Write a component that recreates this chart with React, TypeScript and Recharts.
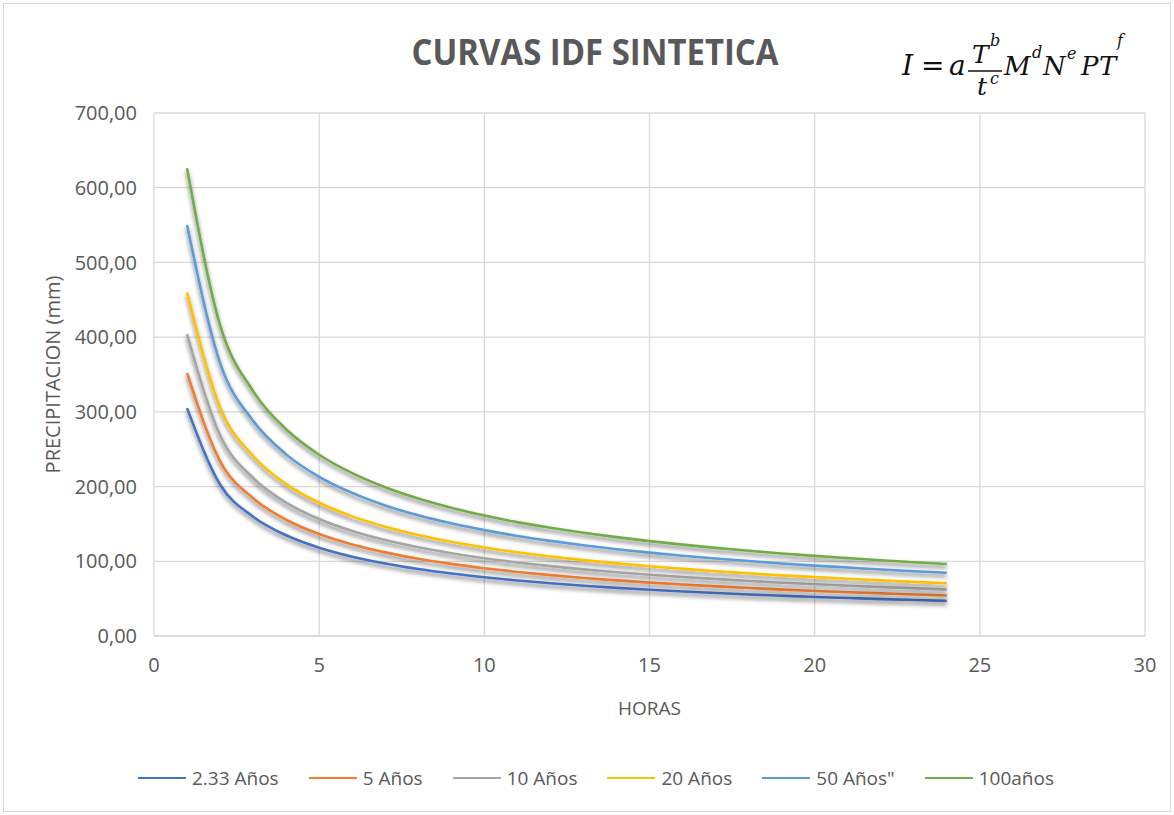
import React from 'react';
import { LineChart, Line, XAxis, YAxis, CartesianGrid, Label } from 'recharts';

const horas = [1, 2, 3, 4, 5, 6, 7, 8, 9, 10, 11, 12, 13, 14, 15, 16, 17, 18, 19, 20, 21, 22, 23, 24];

const anios233 = [305, 202.8, 159.7, 134.8, 118.2, 106.2, 97.0, 89.6, 83.6, 78.6, 74.3, 70.6, 67.3, 64.4, 61.9, 59.6, 57.5, 55.6, 53.8, 52.2, 50.8, 49.4, 48.1, 46.9];
const anios5 = [352, 234.0, 184.3, 155.6, 136.4, 122.5, 111.9, 103.4, 96.5, 90.7, 85.7, 81.5, 77.7, 74.4, 71.4, 68.8, 66.4, 64.2, 62.1, 60.3, 58.6, 57.0, 55.5, 54.1];
const anios10 = [404, 268.6, 211.5, 178.6, 156.6, 140.6, 128.4, 118.7, 110.8, 104.1, 98.4, 93.5, 89.2, 85.4, 82.0, 78.9, 76.2, 73.6, 71.3, 69.2, 67.3, 65.4, 63.7, 62.1];
const anios20 = [460, 305.8, 240.9, 203.3, 178.3, 160.1, 146.2, 135.1, 126.1, 118.5, 112.0, 106.4, 101.6, 97.2, 93.3, 89.9, 86.7, 83.9, 81.2, 78.8, 76.6, 74.5, 72.5, 70.7];
const anios50 = [550, 365.6, 288.0, 243.1, 213.1, 191.5, 174.8, 161.6, 150.8, 141.7, 133.9, 127.3, 121.4, 116.2, 111.6, 107.5, 103.7, 100.3, 97.1, 94.2, 91.6, 89.0, 86.7, 84.6];
const anios100 = [626, 416.2, 327.8, 276.7, 242.6, 217.9, 199.0, 183.9, 171.6, 161.3, 152.4, 144.9, 138.2, 132.3, 127.0, 122.3, 118.0, 114.1, 110.5, 107.2, 104.2, 101.3, 98.7, 96.3];

const seriesNames = ['2.33 Años', '5 Años', '10 Años', '20 Años', '50 Años"', '100años'];
const seriesColors = ['#4472C4', '#ED7D31', '#A5A5A5', '#FFC000', '#5B9BD5', '#70AD47'];
const seriesValues = [anios233, anios5, anios10, anios20, anios50, anios100];

const xTicks = [0, 5, 10, 15, 20, 25, 30];
const yTicks = [0, 100, 200, 300, 400, 500, 600, 700];

const data = horas.map((h, i) => {
  const row: Record<string, number> = { h };
  seriesValues.forEach((s, k) => {
    row['s' + k] = s[i];
  });
  return row;
});

const font = '"Open Sans", sans-serif';
const gray = '#595959';

const fmt = (v: number) => v.toFixed(2).replace('.', ',');

export default function App() {
  return (
    <div style={{ position: 'absolute', left: 0, top: 0, width: 1174, height: 815, background: '#fff', fontFamily: font }}>
      <div style={{ position: 'absolute', left: 3, top: 3, width: 1166, height: 807, border: '1px solid #d9d9d9' }} />

      <LineChart
        width={1174}
        height={815}
        data={data}
        margin={{ top: 113, right: 29, bottom: 0, left: 0 }}
        style={{ position: 'absolute', left: 0, top: 0 }}
      >
        <defs>
          <filter id="lineShadow" x="-5%" y="-10%" width="110%" height="130%">
            <feDropShadow dx="0" dy="3" stdDeviation="2" floodColor="#000" floodOpacity="0.55" />
          </filter>
        </defs>
        <CartesianGrid stroke="#d9d9d9" strokeWidth={1.3} />
        <XAxis
          dataKey="h"
          type="number"
          domain={[0, 30]}
          ticks={xTicks}
          height={179}
          tickSize={0}
          tickMargin={22}
          axisLine={{ stroke: '#d9d9d9', strokeWidth: 1.3 }}
          tickLine={false}
          tick={{ fill: gray, fontSize: 20, fontFamily: font }}
        >
          <Label
            content={({ viewBox }: any) => (
              <text
                x={viewBox.x + viewBox.width / 2}
                y={708}
                textAnchor="middle"
                dominantBaseline="central"
                fill={gray}
                fontSize={19}
                fontFamily={font}
              >
                HORAS
              </text>
            )}
          />
        </XAxis>
        <YAxis
          type="number"
          domain={[0, 700]}
          ticks={yTicks}
          width={154}
          tickSize={0}
          tickMargin={17}
          axisLine={false}
          tickLine={false}
          tickFormatter={fmt}
          tick={{ fill: gray, fontSize: 20, fontFamily: font }}
        >
          <Label
            content={({ viewBox }: any) => {
              const cy = viewBox.y + viewBox.height / 2;
              return (
                <text
                  x={52}
                  y={cy}
                  transform={`rotate(-90, 52, ${cy})`}
                  textAnchor="middle"
                  dominantBaseline="central"
                  fill={gray}
                  fontSize={20}
                  fontFamily={font}
                >
                  PRECIPITACION (mm)
                </text>
              );
            }}
          />
        </YAxis>
        {seriesNames.map((name, k) => (
          <Line
            key={name}
            name={name}
            dataKey={'s' + k}
            type="monotone"
            stroke={seriesColors[k]}
            strokeWidth={2.6}
            filter="url(#lineShadow)"
            dot={false}
            activeDot={false}
            isAnimationActive={false}
          />
        ))}
      </LineChart>

      <svg width={1174} height={120} style={{ position: 'absolute', left: 0, top: 0 }}>
        <text
          x={595}
          y={65}
          textAnchor="middle"
          fill={gray}
          fontSize={36}
          fontWeight={700}
          fontFamily={font}
          textLength={367}
          lengthAdjust="spacingAndGlyphs"
        >
          CURVAS IDF SINTETICA
        </text>
        <g fontFamily='"DejaVu Serif", serif' fontStyle="italic" fill="#111">
          <text x={902} y={75} fontSize={28}>I</text>
          <text x={921} y={75} fontSize={28} fontStyle="normal">=</text>
          <text x={949} y={75} fontSize={28}>a</text>
          <text x={972} y={63} fontSize={25}>T</text>
          <text x={990} y={46} fontSize={16}>b</text>
          <line x1={968} y1={71} x2={1002} y2={71} stroke="#111" strokeWidth={1.6} />
          <text x={977} y={95} fontSize={25}>t</text>
          <text x={990} y={84} fontSize={16}>c</text>
          <text x={1004} y={75} fontSize={26}>M</text>
          <text x={1032} y={58} fontSize={16}>d</text>
          <text x={1043} y={75} fontSize={26}>N</text>
          <text x={1067} y={59} fontSize={16}>e</text>
          <text x={1081} y={75} fontSize={26}>P</text>
          <text x={1099} y={75} fontSize={26}>T</text>
          <text x={1117} y={46} fontSize={16}>f</text>
        </g>
      </svg>

      <div
        style={{
          position: 'absolute',
          left: 138,
          top: 765,
          display: 'flex',
          alignItems: 'center',
          gap: 30,
          fontSize: 19,
          color: gray,
          fontFamily: font,
          whiteSpace: 'nowrap',
        }}
      >
        {seriesNames.map((name, k) => (
          <div key={name} style={{ display: 'flex', alignItems: 'center' }}>
            <div style={{ width: 48, height: 2.6, background: seriesColors[k], marginRight: 6 }} />
            <span>{name}</span>
          </div>
        ))}
      </div>
    </div>
  );
}
